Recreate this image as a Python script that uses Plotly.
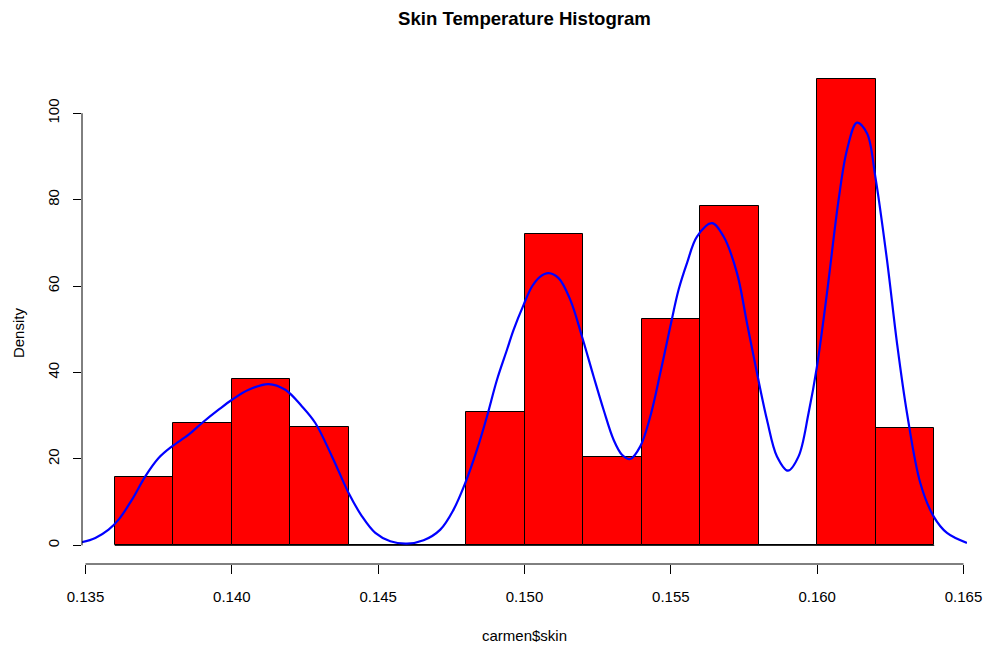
import plotly.graph_objects as go

# Histogram of carmen$skin (density scale, bin width 0.002)
bin_left = [0.136, 0.138, 0.140, 0.142, 0.144, 0.146, 0.148,
            0.150, 0.152, 0.154, 0.156, 0.158, 0.160, 0.162]
bin_width = 0.002
density = [15.7, 28.2, 38.6, 27.5, 0.0, 0.0, 30.9,
           72.0, 20.4, 52.3, 78.5, 0.0, 108.0, 27.1]

# Kernel density estimate overlay
kde_x = [0.13486, 0.135335, 0.135789, 0.136131, 0.136589, 0.137043, 0.137498,
         0.137956, 0.138523, 0.138981, 0.139548, 0.140006, 0.140573, 0.141256,
         0.141827, 0.142397, 0.142852, 0.143422, 0.143990, 0.144447, 0.144902,
         0.145414, 0.145985, 0.146552, 0.147123, 0.147577, 0.147977, 0.148377,
         0.148718, 0.149060, 0.149401, 0.149627, 0.149969, 0.150256, 0.150540,
         0.150823, 0.151165, 0.151565, 0.151964, 0.152361, 0.152702, 0.153044,
         0.153331, 0.153615, 0.153956, 0.154298, 0.154640, 0.154982, 0.155265,
         0.155552, 0.155894, 0.156406, 0.156803, 0.157261, 0.157602, 0.157944,
         0.158285, 0.158627, 0.159003, 0.159365, 0.159707, 0.159994, 0.160335,
         0.160732, 0.161019, 0.161361, 0.161703, 0.161987, 0.162386, 0.162728,
         0.163069, 0.163524, 0.163978, 0.164436, 0.165119]
kde_y = [0.69, 1.71, 3.63, 5.94, 10.57, 15.96, 20.21,
         22.90, 25.60, 28.31, 31.38, 33.70, 36.01, 37.33,
         36.01, 32.15, 28.31, 20.58, 12.12, 6.71, 2.87,
         0.93, 0.39, 1.16, 3.63, 8.26, 14.43, 22.13,
         29.83, 38.32, 45.26, 49.88, 55.66, 59.90, 62.21,
         63.00, 61.84, 56.82, 48.34, 39.08, 31.38, 24.44,
         20.97, 19.98, 22.90, 29.83, 39.87, 50.65, 59.14,
         65.31, 71.46, 74.56, 71.46, 63.00, 51.43, 39.87,
         29.07, 20.58, 17.28, 20.58, 30.62, 41.40, 58.37,
         79.95, 91.51, 97.83, 95.37, 85.34, 66.07, 46.81,
         30.62, 14.43, 6.71, 2.87, 0.56]

x_ticks = [0.135, 0.140, 0.145, 0.150, 0.155, 0.160, 0.165]
x_tick_text = ["0.135", "0.140", "0.145", "0.150", "0.155", "0.160", "0.165"]
y_ticks = [0, 20, 40, 60, 80, 100]

FONT = "Liberation Sans, Arial, sans-serif"

centers = [b + bin_width / 2 for b in bin_left]

# R-style limits: data range extended by 4% on each side
x_lo, x_hi = bin_left[0], bin_left[-1] + bin_width
x_pad = 0.04 * (x_hi - x_lo)
y_hi = max(density)
y_pad = 0.04 * y_hi

fig = go.Figure()
# outline along the base of the histogram (empty bins still show their bottom edge)
fig.add_trace(go.Scatter(
    x=[x_lo, x_hi], y=[0, 0], mode="lines",
    line=dict(color="#000000", width=1),
    hoverinfo="skip", showlegend=False,
))
fig.add_trace(go.Bar(
    x=centers, y=density, width=bin_width,
    marker=dict(color="#FF0000", line=dict(color="#000000", width=1)),
    hoverinfo="skip", showlegend=False,
))
fig.add_trace(go.Scatter(
    x=kde_x, y=kde_y, mode="lines",
    line=dict(color="#0000FF", width=2.2, shape="spline", smoothing=1.0),
    hoverinfo="skip", showlegend=False, cliponaxis=True,
))

# Axis lines spanning only the tick range, as in base R graphics
fig.add_shape(type="line", xref="x", yref="paper",
              x0=x_ticks[0], x1=x_ticks[-1], y0=0, y1=0,
              line=dict(color="#000000", width=1))
fig.add_shape(type="line", xref="paper", yref="y",
              x0=0, x1=0, y0=y_ticks[0], y1=y_ticks[-1],
              line=dict(color="#000000", width=1))

fig.update_layout(
    width=989, height=652,
    margin=dict(l=82, r=22, t=60, b=88),
    paper_bgcolor="white", plot_bgcolor="white",
    bargap=0,
    font=dict(family=FONT, size=15, color="#000000"),
    title=dict(text="<b>Skin Temperature Histogram</b>",
               font=dict(family=FONT, size=18.6, color="#000000"),
               x=0.5, xref="paper", xanchor="center",
               y=1 - 18 / 652, yref="container", yanchor="middle"),
    xaxis=dict(range=[x_lo - x_pad, x_hi + x_pad], showgrid=False,
               zeroline=False, showline=False, automargin=False,
               tickvals=x_ticks, ticktext=x_tick_text,
               ticks="outside", ticklen=9, tickwidth=1, tickcolor="#000000",
               ticklabelstandoff=10,
               tickfont=dict(family=FONT, size=15, color="#000000")),
    yaxis=dict(range=[-y_pad, y_hi + y_pad], showgrid=False,
               zeroline=False, showline=False, automargin=False,
               tickvals=y_ticks, tickangle=-90,
               ticks="outside", ticklen=8, tickwidth=1, tickcolor="#000000",
               ticklabelstandoff=8,
               tickfont=dict(family=FONT, size=15, color="#000000")),
    annotations=[
        dict(text="carmen$skin", xref="paper", yref="paper",
             x=0.5, y=-(636 - 564.4) / 504.4, xanchor="center", yanchor="middle",
             showarrow=False, font=dict(family=FONT, size=15, color="#000000")),
        dict(text="Density", xref="paper", yref="paper",
             x=-(81.7 - 18) / 885.0, y=(564.4 - 333) / 504.4,
             xanchor="center", yanchor="middle", textangle=-90,
             showarrow=False, font=dict(family=FONT, size=15, color="#000000")),
    ],
)

fig.write_html("out.html")
